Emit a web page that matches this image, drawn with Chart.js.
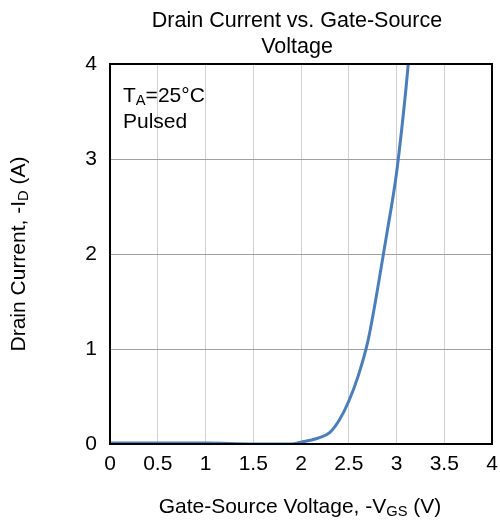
<!DOCTYPE html>
<html>
<head>
<meta charset="utf-8">
<script src="https://cdn.jsdelivr.net/npm/chart.js@4"></script>
<style>
  html, body { margin: 0; padding: 0; background: #fff; }
  #wrap { width: 500px; height: 522px; }
</style>
</head>
<body>
<div id="wrap"><canvas id="idChart"></canvas></div>
<script>
// gate-source voltage (V) and drain current (A)
const vgs = [0, 0.5, 1.0, 1.5, 1.9, 2.0, 2.1, 2.2, 2.3, 2.4, 2.5, 2.6, 2.7, 2.8, 2.9, 3.0, 3.1, 3.15];
const idrain = [0.01, 0.01, 0.01, 0.0, 0.0, 0.02, 0.04, 0.07, 0.12, 0.25, 0.45, 0.72, 1.08, 1.62, 2.22, 2.85, 3.75, 4.3];
const xTicks = [0, 0.5, 1, 1.5, 2, 2.5, 3, 3.5, 4];
const yTicks = [0, 1, 2, 3, 4];

const FONT = '"Liberation Sans", Arial, sans-serif';

// texte avec indice (I_D, V_GS, T_A)
function drawSub(ctx, parts, x, y, size, align) {
    let total = 0;
    parts.forEach(p => {
        ctx.font = (p.sub ? size * 0.7 : size) + 'px ' + FONT;
        total += ctx.measureText(p.t).width;
    });
    let cx = align === 'center' ? x - total / 2 : x;
    parts.forEach(p => {
        ctx.font = (p.sub ? size * 0.7 : size) + 'px ' + FONT;
        ctx.textAlign = 'left';
        ctx.fillText(p.t, cx, p.sub ? y + size * 0.22 : y);
        cx += ctx.measureText(p.t).width;
    });
}

const decor = {
    id: 'decor',
    afterDraw(chart) {
        const ctx = chart.ctx;
        const a = chart.chartArea;
        ctx.save();
        ctx.fillStyle = '#000';
        ctx.textBaseline = 'middle';

        // titre
        ctx.font = '21.5px ' + FONT;
        ctx.textAlign = 'center';
        ctx.fillText('Drain Current vs. Gate-Source', 297, 21);
        ctx.fillText('Voltage', 297, 47);

        // cadre
        ctx.strokeStyle = '#000';
        ctx.lineWidth = 2;
        ctx.strokeRect(a.left, a.top, a.right - a.left, a.bottom - a.top);

        // annotation
        drawSub(ctx, [{t: 'T'}, {t: 'A', sub: true}, {t: '=25°C'}], 123, 96, 21, 'left');
        ctx.font = '21px ' + FONT;
        ctx.textAlign = 'left';
        ctx.fillText('Pulsed', 123, 122);

        // titre axe x
        drawSub(ctx, [{t: 'Gate-Source Voltage, -V'}, {t: 'GS', sub: true}, {t: ' (V)'}], 300, 507, 21, 'center');

        // titre axe y
        ctx.translate(19, 254);
        ctx.rotate(-Math.PI / 2);
        drawSub(ctx, [{t: 'Drain Current, -I'}, {t: 'D', sub: true}, {t: ' (A)'}], 0, 0, 21, 'center');
        ctx.restore();
    }
};

new Chart(document.getElementById('idChart'), {
    type: 'line',
    data: {
        datasets: [{
            data: vgs.map((v, i) => ({x: v, y: idrain[i]})),
            borderColor: '#4a7ebb',
            borderWidth: 3,
            pointRadius: 0,
            tension: 0.4,
            cubicInterpolationMode: 'monotone',
            fill: false
        }]
    },
    options: {
        responsive: true,
        maintainAspectRatio: false,
        animation: false,
        layout: { padding: { left: 0, top: 64, right: 8, bottom: 0 } },
        plugins: {
            legend: { display: false },
            tooltip: { enabled: false }
        },
        scales: {
            x: {
                type: 'linear',
                min: 0, max: 4,
                afterBuildTicks: s => { s.ticks = xTicks.map(v => ({value: v})); },
                afterFit: s => { s.height = 78; s.paddingLeft = 0; s.paddingRight = 0; },
                grid: { color: '#d0d0d0', lineWidth: 1, drawTicks: false },
                border: { display: false },
                ticks: {
                    color: '#000',
                    font: { family: FONT, size: 21 },
                    padding: 8,
                    maxRotation: 0,
                    callback: v => String(v)
                }
            },
            y: {
                type: 'linear',
                min: 0, max: 4,
                afterBuildTicks: s => { s.ticks = yTicks.map(v => ({value: v})); },
                afterFit: s => { s.width = 110; s.paddingTop = 0; s.paddingBottom = 0; },
                grid: { color: '#a0a0a0', lineWidth: 1, drawTicks: false },
                border: { display: false },
                ticks: {
                    color: '#000',
                    font: { family: FONT, size: 21 },
                    padding: 13,
                    callback: v => String(v)
                }
            }
        }
    },
    plugins: [decor]
});
</script>
</body>
</html>
